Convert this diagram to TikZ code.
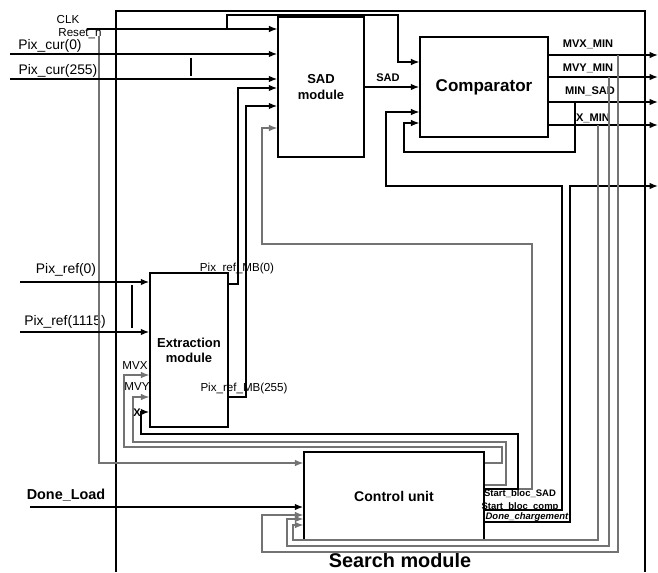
\documentclass[tikz,border=0pt]{standalone}
\usepackage{fontspec}
\setmainfont{Liberation Sans}
\usetikzlibrary{arrows.meta}

\begin{document}
\begin{tikzpicture}[x=0.02cm,y=-0.02cm,
		block/.style={draw,line width=0.9pt,fill=white,align=center,inner sep=0pt,font=\bfseries\fontsize{7.4}{8.6}\selectfont},
		wire/.style={line width=0.9pt},
		twire/.style={line width=0.6pt},
		gwire/.style={line width=0.6pt,draw=black!55},
		arrow/.style={-{Latex[length=4.8pt,width=3.8pt]}},
		lbl/.style={inner sep=0pt,font=\fontsize{7.9}{9}\selectfont},
		slbl/.style={inner sep=0pt,font=\fontsize{6.6}{7.5}\selectfont},
		blbl/.style={inner sep=0pt,font=\bfseries\fontsize{6.3}{7.5}\selectfont},
		tlbl/.style={inner sep=0pt,font=\bfseries\fontsize{5.4}{6}\selectfont}
	]
	\useasboundingbox (0,0) rectangle (658,572);

	% Search module frame
	\draw[wire] (116,572) -- (116,11) -- (645,11) -- (645,572);
	\node[inner sep=0pt,font=\bfseries\fontsize{11.3}{13}\selectfont] (title) at (400,560) {Search module};

	% blocks
	\node[block,minimum width=1.72cm,minimum height=2.8cm] (sad) at (321,87) {SAD\\module};
	\node[block,minimum width=2.56cm,minimum height=2cm,font=\bfseries\fontsize{9.7}{11}\selectfont] (comp) at (484,87) {Comparator};
	\node[block,minimum width=1.56cm,minimum height=3.08cm] (extr) at (189,350) {Extraction\\module};
	\node[block,minimum width=3.6cm,minimum height=1.76cm,font=\bfseries\fontsize{8}{9}\selectfont] (ctrl) at (394,496) {Control unit};

	% inputs
	\coordinate (clk) at (87,29);
	\coordinate (rst) at (99,36);
	\coordinate (pc0) at (10,54);
	\coordinate (pc255) at (10,79);
	\coordinate (pr0) at (20,282);
	\coordinate (pr1115) at (20,332);
	\coordinate (dl) at (30,507);
	\node[slbl] (clkl) at (68,20) {CLK};
	\node[slbl] (rstl) at (80,34) {Reset\_n};
	\node[lbl] (pc0l) at (50,46) {Pix\_cur(0)};
	\node[lbl] (pc255l) at (58,71) {Pix\_cur(255)};
	\node[lbl] (pr0l) at (66,270) {Pix\_ref(0)};
	\node[lbl] (pr1115l) at (65,322) {Pix\_ref(1115)};
	\node[inner sep=0pt,font=\bfseries\fontsize{8.2}{9}\selectfont] (dll) at (66,495) {Done\_Load};

	\draw[twire,arrow] (clk) -- (sad.west |- clk);
	\draw[twire,arrow] (227,29) -- (227,15) -- (398,15) -- (398,62) -- (comp.west |- 0,62);
	\draw[gwire,arrow] (rst) -- (99,463) -- (ctrl.west |- 0,463);
	\draw[wire,arrow] (pc0) -- (sad.west |- pc0);
	\draw[wire,arrow] (pc255) -- (sad.west |- pc255);
	\draw[twire] (191,58) -- (191,76);
	\draw[wire,arrow] (pr0) -- (extr.west |- pr0);
	\draw[wire,arrow] (pr1115) -- (extr.west |- pr1115);
	\draw[twire] (132,285) -- (132,328);
	\draw[wire,arrow] (dl) -- (ctrl.west |- dl);

	% extraction -> SAD
	\draw[wire,arrow] (extr.east |- 0,284) -- (238,284) -- (238,88) -- (sad.west |- 0,88);
	\draw[wire,arrow] (extr.east |- 0,397) -- (246,397) -- (246,106) -- (sad.west |- 0,106);
	\node[slbl] (mb0) at (237,268) {Pix\_ref\_MB(0)};
	\node[slbl] (mb255) at (244,388) {Pix\_ref\_MB(255)};

	% SAD -> comparator
	\draw[wire,arrow] (sad.east |- 0,87) -- (comp.west |- 0,87);
	\node[blbl] (sadl) at (388,78) {SAD};

	% comparator outputs
	\draw[wire,arrow] (comp.east |- 0,55) -- (658,55);
	\draw[wire,arrow] (comp.east |- 0,77) -- (658,77);
	\draw[wire,arrow] (comp.east |- 0,102) -- (658,102);
	\draw[wire,arrow] (comp.east |- 0,125) -- (658,125);
	\node[blbl] (mvxm) at (588,44) {MVX\_MIN};
	\node[blbl] (mvym) at (588,68) {MVY\_MIN};
	\node[blbl] (msad) at (590,91) {MIN\_SAD};
	\node[blbl] (xm) at (593,118) {X\_MIN};
	\draw[twire,arrow] (575,102) -- (575,152) -- (404,152) -- (404,123) -- (comp.west |- 0,123);

	% control unit outputs
	\draw[gwire,arrow] (ctrl.east |- 0,489) -- (532,489) -- (532,244) -- (262,244) -- (262,128) -- (sad.west |- 0,128);
	\draw[twire,arrow] (ctrl.east |- 0,510) -- (562,510) -- (562,186) -- (386,186) -- (386,112) -- (comp.west |- 0,112);
	\draw[wire,arrow] (ctrl.east |- 0,522) -- (570,522) -- (570,186) -- (658,186);
	\node[tlbl] (sbs) at (520,494) {Start\_bloc\_SAD};
	\node[tlbl] (sbc) at (520,507) {Start\_bloc\_comp};
	\node[tlbl,font=\bfseries\itshape\fontsize{5.4}{6}\selectfont] (dch) at (527,517) {Done\_chargement};

	% control unit -> extraction
	\draw[wire,arrow] (ctrl.east |- 0,489) -- (518,489) -- (518,434) -- (141,434) -- (141,412) -- (extr.west |- 0,412);
	\draw[gwire,arrow] (ctrl.east |- 0,485) -- (506,485) -- (506,442) -- (133,442) -- (133,397) -- (extr.west |- 0,397);
	\draw[gwire,arrow] (ctrl.east |- 0,463) -- (502,463) -- (502,447) -- (124,447) -- (124,375) -- (extr.west |- 0,375);
	\node[slbl] (mvx) at (135,365) {MVX};
	\node[slbl] (mvy) at (137,386) {MVY};
	\node[blbl] (xl) at (137,413) {X};

	% feedback of the minima
	\draw[gwire,arrow] (598,125) -- (598,540) -- (293,540) -- (293,525) -- (ctrl.west |- 0,525);
	\draw[gwire,arrow] (609,77) -- (609,546) -- (287,546) -- (287,519) -- (ctrl.west |- 0,519);
	\draw[gwire,arrow] (618,55) -- (618,552) -- (262,552) -- (262,515) -- (ctrl.west |- 0,515);
\end{tikzpicture}
\end{document}
